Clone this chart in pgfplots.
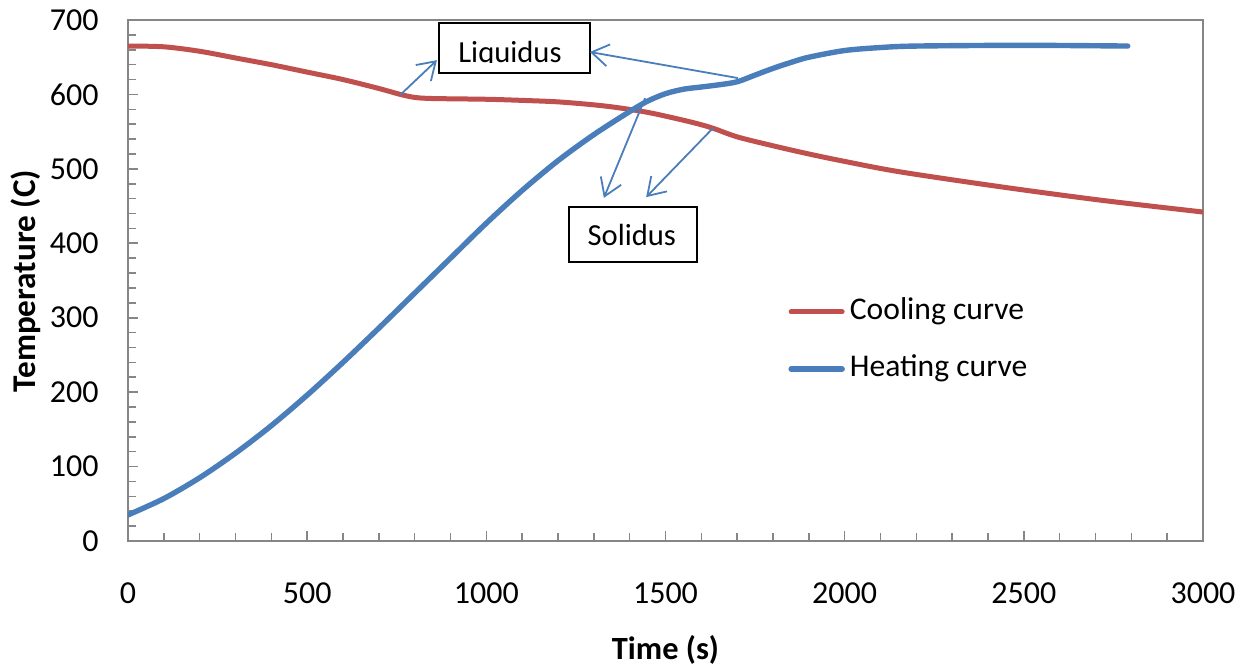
\documentclass[border=0pt]{standalone}
\usepackage{pgfplots}
\pgfplotsset{compat=1.18}
\usepackage{fontspec}
\setmainfont{Carlito}
\usetikzlibrary{arrows.meta}
\definecolor{cred}{RGB}{192,80,77}
\definecolor{cblue}{RGB}{74,126,187}
\definecolor{axgray}{RGB}{134,134,134}
\begin{document}
\begin{tikzpicture}
\useasboundingbox (-64pt,-63pt) rectangle (559pt,270.5pt);
\begin{axis}[
  at={(0,0)}, anchor=south west,
  scale only axis, width=537.5pt, height=260.5pt,
  xmin=0, xmax=3000, ymin=0, ymax=700,
  xtick={0,500,...,3000}, ytick={0,100,...,700},
  minor x tick num=4, minor y tick num=4,
  xtick pos=left, ytick pos=left,
  tick align=inside,
  major tick length=5pt, minor tick length=3.8pt,
  every tick/.style={axgray, line width=0.8pt},
  axis line style={axgray, line width=0.9pt},
  /pgf/number format/assume math mode=true,
  /pgf/number format/1000 sep={},
  xticklabel style={font=\fontsize{16}{19}\selectfont, anchor=north, inner sep=0pt, yshift=-20.5pt},
  yticklabel style={font=\fontsize{16}{19}\selectfont, anchor=east, inner sep=0pt, xshift=-14.5pt},
  xlabel={\textbf{Time (s)}},
  ylabel={\textbf{Temperature (C)}},
  xlabel style={font=\fontsize{16.2}{19}\selectfont, at={(axis description cs:0.5,-0.209)}, anchor=center},
  ylabel style={font=\fontsize{16.6}{19}\selectfont, at={(axis description cs:-0.095,0.499)}, anchor=center},
  legend style={at={(axis description cs:0.614,0.385)}, anchor=west, draw=none, fill=none,
    font=\fontsize{15.8}{19}\selectfont, inner sep=0pt, row sep=12.5pt, column sep=2.5pt,
    nodes={inner sep=0pt, text height=12pt, text depth=4pt}},
  legend cell align=left,
  legend image code/.code={\draw[#1, line cap=round] (0pt,0pt) -- (25.5pt,0pt);},
]
\addplot[cred, line width=2.5pt, smooth] coordinates {
(0,665) (100,664) (200,658) (300,649) (400,640) (500,630) (600,620) (700,608)
(760,600) (800,596) (850,594.5) (1000,593.5) (1100,592) (1200,590) (1300,586)
(1370,582) (1460,575) (1570,563) (1630,555) (1700,543) (1800,531) (1900,520)
(2000,510) (2154,496) (2434,476) (2713,458) (3000,442)};
\addlegendentry{Cooling curve}
\addplot[cblue, line width=2.7pt, smooth, line cap=round] coordinates {
(0,35) (100,57) (200,85) (300,118) (400,155) (500,196) (600,240) (700,286)
(800,333) (900,380) (1000,427) (1100,471) (1200,511) (1300,546) (1400,577)
(1450,591) (1500,601) (1550,607) (1600,610) (1650,613) (1700,617) (1750,626)
(1800,635) (1850,643) (1900,650) (2000,659) (2100,663) (2200,665) (2500,666) (2790,665)};
\addlegendentry{Heating curve}
% annotation boxes
\draw[black, line width=0.8pt, fill=white] (axis cs:868,696) rectangle (axis cs:1289,628.8);
\begin{scope}
\clip (axis cs:868,696) rectangle (axis cs:1289,643);
\node[anchor=base, inner sep=0pt, font=\fontsize{15.3}{18}\selectfont] at (axis cs:1066,643) {Liquidus};
\end{scope}
\draw[black, line width=0.8pt, fill=white] (axis cs:1231,448.7) rectangle (axis cs:1588,374.8);
\node[anchor=base, inner sep=0pt, font=\fontsize{15.3}{18}\selectfont] at (axis cs:1406,396.7) {Solidus};
% arrows
\begin{scope}[cblue, line width=0.9pt, -{Straight Barb[length=8.5pt,width=11pt,line width=0.9pt]}]
\draw (axis cs:759,599) -- (axis cs:862,646);
\draw (axis cs:1702,622) -- (axis cs:1289,657);
\draw (axis cs:1443,595) -- (axis cs:1328,461);
\draw (axis cs:1633,555) -- (axis cs:1446,462);
\end{scope}
\end{axis}
\end{tikzpicture}
\end{document}
